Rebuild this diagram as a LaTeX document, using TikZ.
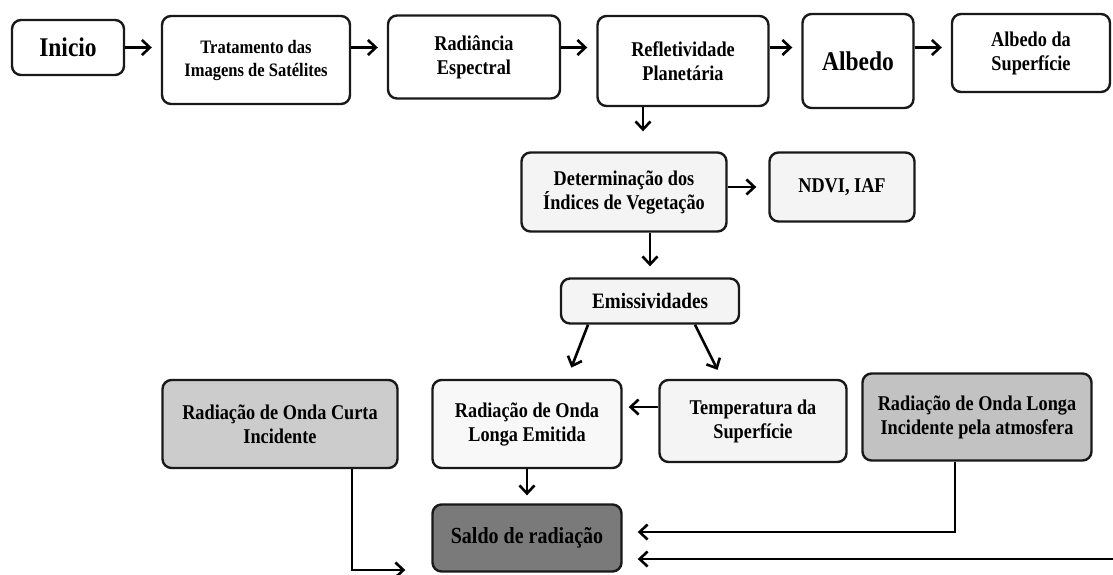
\documentclass[tikz,border=0pt]{standalone}
\usepackage{fontspec}
\setmainfont{Liberation Serif}[FakeStretch=0.87]
\usetikzlibrary{arrows.meta}
\definecolor{boxlight}{gray}{0.955}
\definecolor{boxgray}{gray}{0.8}
\definecolor{boxdark}{gray}{0.48}

\begin{document}
\begin{tikzpicture}[x=1pt,y=-1pt,font=\bfseries\fontsize{21}{24}\selectfont,
    box/.style={draw=black!90,line width=2.4pt,rounded corners=9pt,align=center,inner sep=1pt,fill=white},
    arr/.style={line width=2.6pt,-{Straight Barb[length=8pt,width=15pt]}}]
      \useasboundingbox (0,0) rectangle (1113,574);
      \node[box,minimum width=112pt,minimum height=55pt,font=\bfseries\fontsize{27}{30}\selectfont] (ini) at (68,47.5) {Inicio};
      \node[box,minimum width=188pt,minimum height=88pt,font=\bfseries\fontsize{19}{23}\selectfont] (trat) at (256,60) {Tratamento das\\Imagens de Satélites};
      \node[box,minimum width=172pt,minimum height=83pt] (rad) at (474,57) {Radiância\\Espectral};
      \node[box,minimum width=171pt,minimum height=90pt] (refl) at (683,61) {Refletividade\\Planetária};
      \node[box,minimum width=111pt,minimum height=94pt,font=\bfseries\fontsize{27}{30}\selectfont] (alb) at (858,61) {Albedo};
      \node[box,minimum width=158pt,minimum height=78pt] (sup) at (1031,53) {Albedo da\\Superfície};
      \node[box,fill=boxlight,minimum width=205pt,minimum height=79pt] (det) at (624,192) {Determinação dos\\Índices de Vegetação};
      \node[box,fill=boxlight,minimum width=145pt,minimum height=69pt] (ndvi) at (842,187) {NDVI, IAF};
      \node[box,fill=boxlight,minimum width=178pt,minimum height=45pt,font=\bfseries\fontsize{22}{25}\selectfont] (emis) at (650,301) {Emissividades};
      \node[box,fill=boxlight!60!white,minimum width=189pt,minimum height=88pt] (emit) at (527,424) {Radiação de Onda\\Longa Emitida};
      \node[box,fill=boxgray,minimum width=235pt,minimum height=88pt] (curta) at (280,424) {Radiação de Onda Curta\\Incidente};
      \node[box,fill=boxlight,minimum width=187pt,minimum height=82pt] (temp) at (753,421) {Temperatura da\\Superfície};
      \node[box,fill=boxgray!95!black,minimum width=229pt,minimum height=87pt] (longa) at (977,417) {Radiação de Onda Longa\\Incidente pela atmosfera};
      \node[box,fill=boxdark,minimum width=189pt,minimum height=67pt,font=\bfseries\fontsize{23}{26}\selectfont] (saldo) at (527,538) {Saldo de radiação};
      \foreach \a/\b in {ini/trat,trat/rad,rad/refl,refl/alb,alb/sup}
        \draw[arr,shorten >=9pt] (\a.east |- ini.east) -- (\b.west |- ini.east);
      \coordinate (dn) at (643,0);
      \draw[arr,shorten >=20pt] (refl.south -| dn) -- (det.north -| dn);
      \draw[arr,shorten >=12pt] (det.east |- ndvi) -- (ndvi.west);
      \draw[arr,shorten >=11pt] (det.south -| emis) -- (emis.north);
      \draw[arr,shorten >=12pt] ([xshift=-62pt]emis.south) -- ([xshift=40pt]emit.north);
      \draw[arr,shorten >=10pt] ([xshift=45pt]emis.south) -- ([xshift=-31pt]temp.north);
      \draw[arr,shorten >=6pt] ([yshift=14pt]temp.west) -- ([yshift=17pt]emit.east);
      \draw[arr,shorten >=8pt] (emit.south) -- (saldo.north);
      \coordinate (low) at (0,570);
      \draw[arr,shorten >=26pt] ([xshift=72pt]curta.south) |- (saldo.west |- low);
      \draw[arr,shorten >=15pt] ([xshift=-22pt]longa.south) |- ([yshift=6pt]saldo.east);
      \coordinate (edge) at (1113,559);
      \draw[arr,shorten >=15pt] (edge) -- (saldo.east |- edge);
\end{tikzpicture}
\end{document}
